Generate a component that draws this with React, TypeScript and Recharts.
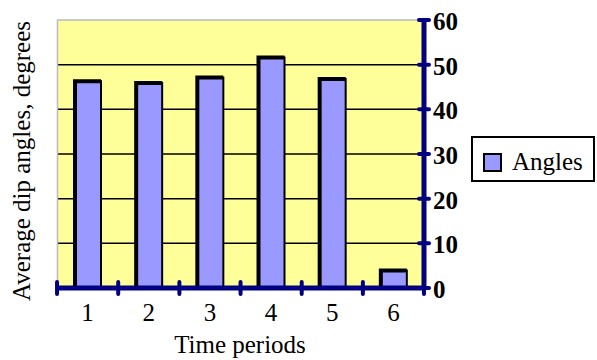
import React from 'react';
import { BarChart, Bar, XAxis, YAxis, CartesianGrid } from 'recharts';

const periods = ['1', '2', '3', '4', '5', '6'];
const angles = [46.3, 45.9, 47.1, 51.6, 46.8, 3.9];
const yTicks = [0, 10, 20, 30, 40, 50, 60];
const gridValues = [10, 20, 30, 40, 50];

const data = periods.map((p, i) => ({ period: p, angles: angles[i] }));

const NAVY = '#000080';
const SERIF = '"Liberation Serif", "Times New Roman", serif';
const WIDTH = 597;
const HEIGHT = 360;
const PLOT_LEFT = 57.5;
const PLOT_RIGHT = 424;
const BAND = (PLOT_RIGHT - PLOT_LEFT) / periods.length;

// bar with the old-style heavy top/left edge
const HeavyBar = (props: any) => {
    const { x, y, width, height } = props;
    if (!height) return null;
    return (
        <g>
            <rect x={x} y={y} width={width} height={height} fill="#9999FF" stroke="#000" strokeWidth={2} />
            <path d={`M${x} ${y + height} V${y} H${x + width}`} stroke="#000" strokeWidth={4} fill="none" />
        </g>
    );
};

const XTick = (props: any) => {
    const { x, y, payload, index } = props;
    return (
        <g>
            <line x1={x - BAND / 2} y1={y - 6} x2={x - BAND / 2} y2={y + 6} stroke={NAVY} strokeWidth={4} strokeLinecap="round" />
            {index === periods.length - 1 && (
                <line x1={x + BAND / 2} y1={y - 6} x2={x + BAND / 2} y2={y + 6} stroke={NAVY} strokeWidth={4} strokeLinecap="round" />
            )}
            <text x={x} y={y + 33} textAnchor="middle" fontFamily={SERIF} fontSize={25} fill="#000">
                {payload.value}
            </text>
        </g>
    );
};

const YTick = (props: any) => {
    const { x, y, payload } = props;
    return (
        <g>
            <line x1={x - 5} y1={y} x2={x + 5} y2={y} stroke={NAVY} strokeWidth={4} strokeLinecap="round" />
            <text x={x + 9} y={y + 10} textAnchor="start" fontFamily={SERIF} fontSize={25} fontWeight="bold" fill="#000">
                {payload.value}
            </text>
        </g>
    );
};

const LegendBox = () => (
    <div style={{ position: 'absolute', left: 471, top: 136, width: 124, height: 46, border: '2px solid #000', boxSizing: 'border-box', background: '#fff' }}>
        <div style={{ position: 'absolute', left: 10, top: 15, width: 19, height: 19, background: '#9999FF', border: '2px solid #000', boxSizing: 'border-box' }} />
        <div style={{ position: 'absolute', left: 39, top: 11, fontFamily: SERIF, fontSize: 25, lineHeight: '25px', color: '#000' }}>
            Angles
        </div>
    </div>
);

export default function App() {
    return (
        <div style={{ position: 'absolute', left: 0, top: 0, width: WIDTH, height: HEIGHT, background: '#fff' }}>
            <BarChart width={WIDTH} height={HEIGHT} data={data} margin={{ top: 20, right: 113, bottom: 0, left: 0 }}>
                <CartesianGrid yAxisId="right" fill="#FFFF99" stroke="#000" strokeWidth={1.5} vertical={false} horizontalValues={gridValues} />
                <CartesianGrid yAxisId="right" stroke="#B8B8C8" strokeWidth={1.5} horizontalValues={[60]} verticalPoints={[PLOT_LEFT]} />
                <XAxis
                    dataKey="period"
                    height={72}
                    tickSize={0}
                    tickMargin={0}
                    tick={<XTick />}
                    axisLine={{ stroke: NAVY, strokeWidth: 5 }}
                    tickLine={false}
                    label={(p: any) => (
                        <text x={240} y={353} textAnchor="middle" fontFamily={SERIF} fontSize={25} fill="#000">
                            Time periods
                        </text>
                    )}
                />
                <YAxis
                    yAxisId="left"
                    orientation="left"
                    width={57}
                    domain={[0, 60]}
                    tick={false}
                    tickLine={false}
                    axisLine={false}
                    label={(p: any) => (
                        <text x={30} y={161} transform="rotate(-90 30 161)" textAnchor="middle" fontFamily={SERIF} fontSize={25} fill="#000">
                            Average dip angles, degrees
                        </text>
                    )}
                />
                <YAxis
                    yAxisId="right"
                    orientation="right"
                    width={60}
                    domain={[0, 60]}
                    ticks={yTicks}
                    interval={0}
                    tickSize={0}
                    tickMargin={0}
                    tick={<YTick />}
                    tickLine={false}
                    axisLine={{ stroke: NAVY, strokeWidth: 5 }}
                />
                <Bar yAxisId="right" dataKey="angles" name="Angles" barSize={26} shape={<HeavyBar />} isAnimationActive={false} />
            </BarChart>
            <LegendBox />
        </div>
    );
}
